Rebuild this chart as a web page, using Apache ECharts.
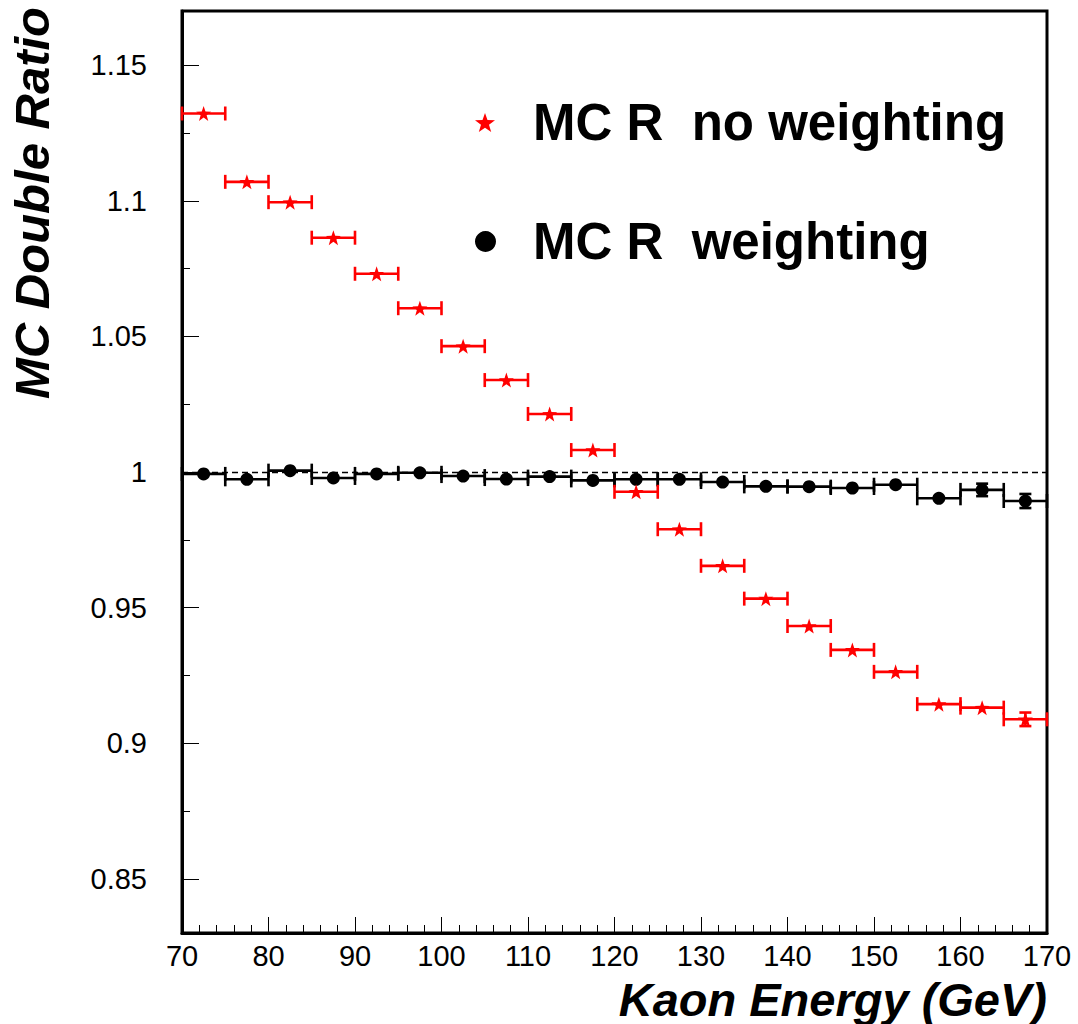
<!DOCTYPE html>
<html>
<head>
<meta charset="utf-8">
<script src="https://cdn.jsdelivr.net/npm/echarts@6/dist/echarts.min.js"></script>
<style>
html,body{margin:0;padding:0;background:#fff;}
#chart{width:1078px;height:1024px;}
</style>
</head>
<body>
<div id="chart"></div>
<script>
// ---- data ----
const energyBins = [72.5, 77.5, 82.5, 87.5, 92.5, 97.5, 102.5, 107.5, 112.5, 117.5,
                    122.5, 127.5, 132.5, 137.5, 142.5, 147.5, 152.5, 157.5, 162.5, 167.5];
const binWidth = 5;
const noWeightRatio = [1.1322, 1.1070, 1.0995, 1.0864, 1.0731, 1.0604, 1.0464, 1.0339, 1.0214, 1.0081,
                       0.9927, 0.9789, 0.9654, 0.9533, 0.9432, 0.9344, 0.9263, 0.9144, 0.9131, 0.9088];
const noWeightErr   = [0.0006, 0.0006, 0.0006, 0.0006, 0.0007, 0.0007, 0.0007, 0.0007, 0.0008, 0.0008,
                       0.0008, 0.0009, 0.0009, 0.0010, 0.0010, 0.0011, 0.0012, 0.0013, 0.0015, 0.0025];
const weightRatio   = [0.9993, 0.9973, 1.0005, 0.9978, 0.9993, 0.9997, 0.9985, 0.9974, 0.9983, 0.9969,
                       0.9973, 0.9973, 0.9963, 0.9947, 0.9946, 0.9941, 0.9953, 0.9903, 0.9934, 0.9893];
const weightErr     = [0.0005, 0.0005, 0.0005, 0.0006, 0.0006, 0.0006, 0.0007, 0.0007, 0.0008, 0.0008,
                       0.0009, 0.0009, 0.0010, 0.0011, 0.0012, 0.0013, 0.0014, 0.0016, 0.0023, 0.0026];
const xTickLabels = ['70', '80', '90', '100', '110', '120', '130', '140', '150', '160', '170'];
const yMajorTicks = [0.85, 0.9, 0.95, 1, 1.05, 1.1, 1.15];
const yTickLabels = ['0.85', '0.9', '0.95', '1', '1.05', '1.1', '1.15'];
const yMinorTicks = [0.875, 0.925, 0.975, 1.025, 1.075, 1.125];
const legendNames = ['MC R  no weighting', 'MC R  weighting'];

// ---- build ----
const starPath = 'path://M0,-10 L2.35,-3.24 L9.51,-3.09 L3.8,1.24 L5.88,8.09 L0,4 L-5.88,8.09 L-3.8,1.24 L-9.51,-3.09 L-2.35,-3.24 Z';
const redData = energyBins.map((x, i) => [x, noWeightRatio[i], noWeightErr[i]]);
const blackData = energyBins.map((x, i) => [x, weightRatio[i], weightErr[i]]);

function makeErr(color, markerR) {
  return function (params, api) {
    const x = api.value(0), y = api.value(1), e = api.value(2);
    const L = api.coord([x - binWidth / 2, y]);
    const R = api.coord([x + binWidth / 2, y]);
    const T = api.coord([x, y + e]);
    const B = api.coord([x, y - e]);
    const cap = 7, vcap = 6;
    const st = { stroke: color, lineWidth: 2.6 };
    const ch = [
      { type: 'line', shape: { x1: L[0], y1: L[1], x2: R[0], y2: R[1] }, style: st },
      { type: 'line', shape: { x1: L[0], y1: L[1] - cap, x2: L[0], y2: L[1] + cap }, style: st },
      { type: 'line', shape: { x1: R[0], y1: R[1] - cap, x2: R[0], y2: R[1] + cap }, style: st }
    ];
    if (B[1] - L[1] > markerR) {
      ch.push({ type: 'line', shape: { x1: T[0], y1: T[1], x2: B[0], y2: B[1] }, style: st });
      ch.push({ type: 'line', shape: { x1: T[0] - vcap, y1: T[1], x2: T[0] + vcap, y2: T[1] }, style: st });
      ch.push({ type: 'line', shape: { x1: B[0] - vcap, y1: B[1], x2: B[0] + vcap, y2: B[1] }, style: st });
    }
    return { type: 'group', children: ch };
  };
}

const FONT = 'Liberation Sans, Arial, Helvetica, sans-serif';

const option = {
  animation: false,
  backgroundColor: '#fff',
  grid: { left: 182, right: 31, top: 11, bottom: 91, show: true, borderColor: '#000', borderWidth: 3 },
  xAxis: {
    type: 'value', min: 70, max: 170, interval: 10,
    axisLine: { show: true, onZero: false, lineStyle: { color: '#000', width: 3 } },
    axisTick: { show: true, inside: true, length: 16, lineStyle: { color: '#000', width: 1 } },
    minorTick: { show: true, splitNumber: 5, length: 8, lineStyle: { color: '#000', width: 1 } },
    axisLabel: {
      margin: 8, color: '#000', fontSize: 29, fontFamily: FONT,
      formatter: v => xTickLabels[Math.round((v - 70) / 10)]
    },
    splitLine: { show: false }
  },
  yAxis: [
    {
      type: 'value', min: 0.83, max: 1.17,
      axisLine: { show: true, onZero: false, lineStyle: { color: '#000', width: 3 } },
      axisTick: { show: true, inside: true, length: 17, customValues: yMajorTicks, lineStyle: { color: '#000', width: 1 } },
      axisLabel: {
        customValues: yMajorTicks, margin: 35, color: '#000', fontSize: 29, fontFamily: FONT,
        formatter: v => {
          let best = 0;
          yMajorTicks.forEach((t, i) => { if (Math.abs(t - v) < Math.abs(yMajorTicks[best] - v)) best = i; });
          return yTickLabels[best];
        }
      },
      splitLine: { show: false }
    },
    {
      type: 'value', min: 0.83, max: 1.17, position: 'left',
      axisLine: { show: false },
      axisTick: { show: true, inside: true, length: 8, customValues: yMinorTicks, lineStyle: { color: '#000', width: 1 } },
      axisLabel: { show: false },
      splitLine: { show: false }
    }
  ],
  legend: [
    {
      data: [legendNames[0]], left: 475, top: 97, padding: 0,
      itemWidth: 20, itemHeight: 20,
      textStyle: { fontSize: 51, fontWeight: 'bold', fontFamily: FONT, color: '#000', padding: [0, 0, 0, 33] }
    },
    {
      data: [legendNames[1]], left: 475, top: 216, padding: 0,
      itemWidth: 21, itemHeight: 21,
      textStyle: { fontSize: 51, fontWeight: 'bold', fontFamily: FONT, color: '#000', padding: [0, 0, 0, 32] }
    }
  ],
  graphic: [
    {
      type: 'text', x: 1047, y: 999,
      style: { text: 'Kaon Energy (GeV)', font: 'italic bold 47px ' + FONT, lineHeight: 40, fill: '#000', align: 'right', verticalAlign: 'middle' }
    },
    {
      type: 'text', x: 32, y: 203, rotation: Math.PI / 2,
      style: { text: 'MC Double Ratio', font: 'italic bold 49px ' + FONT, fill: '#000', align: 'center', verticalAlign: 'middle' }
    }
  ],
  series: [
    {
      type: 'custom', name: 'errWeight', renderItem: makeErr('#000', 5),
      data: blackData, encode: { x: 0, y: 1 }, z: 3, silent: true,
      markLine: {
        silent: true, symbol: 'none', label: { show: false },
        lineStyle: { color: '#000', width: 1.3, type: [6, 4] },
        data: [{ yAxis: 1 }]
      }
    },
    {
      type: 'custom', name: 'errNoWeight', renderItem: makeErr('#ff0000', 5),
      data: redData, encode: { x: 0, y: 1 }, z: 3, silent: true
    },
    {
      type: 'scatter', name: legendNames[1], symbol: 'circle', symbolSize: 13,
      itemStyle: { color: '#000', opacity: 1 }, data: blackData.map(d => [d[0], d[1]]), z: 5
    },
    {
      type: 'scatter', name: legendNames[0], symbol: starPath, symbolSize: 15,
      itemStyle: { color: '#ff0000', opacity: 1 }, data: redData.map(d => [d[0], d[1]]), z: 5
    }
  ]
};

const chart = echarts.init(document.getElementById('chart'), null, { renderer: 'svg' });
chart.setOption(option);
</script>
</body>
</html>
